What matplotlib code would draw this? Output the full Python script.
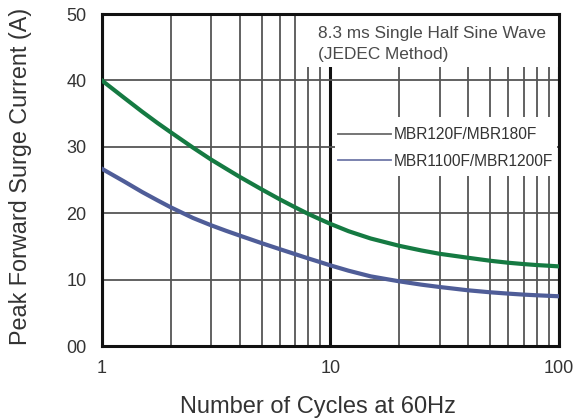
import matplotlib
matplotlib.use("Agg")
import matplotlib.pyplot as plt
from matplotlib.lines import Line2D
from matplotlib.patches import Rectangle
from matplotlib.ticker import FixedLocator, NullFormatter

plt.rcParams['font.family'] = ['Liberation Sans', 'DejaVu Sans']

cycles = [1, 1.25, 1.5, 1.75, 2, 2.5, 3, 3.5, 4, 5, 6, 7, 8, 9, 10,
          12, 15, 20, 25, 30, 40, 50, 60, 70, 80, 90, 100]
mbr120_180 = [40.0, 37.4, 35.3, 33.6, 32.2, 29.9, 28.1, 26.7, 25.5, 23.6, 22.1, 20.9, 19.9, 19.1, 18.4,
              17.3, 16.2, 15.1, 14.4, 13.9, 13.3, 12.85, 12.55, 12.35, 12.2, 12.1, 12.0]
mbr1100_1200 = [26.7, 24.8, 23.2, 21.95, 20.9, 19.3, 18.2, 17.35, 16.65, 15.5, 14.6, 13.85, 13.2, 12.65, 12.15,
                11.35, 10.5, 9.75, 9.25, 8.9, 8.4, 8.1, 7.9, 7.75, 7.65, 7.57, 7.5]
series_labels = ["MBR120F/MBR180F", "MBR1100F/MBR1200F"]
y_ticks = [0, 10, 20, 30, 40, 50]
y_ticklabels = ["00", "10", "20", "30", "40", "50"]
x_ticks = [1, 10, 100]
x_ticklabels = ["1", "10", "100"]
x_minor = [2, 3, 4, 5, 6, 7, 8, 9, 20, 30, 40, 50, 60, 70, 80, 90]

green = '#157a42'
blue = '#4f5d98'
txt = '#333333'

fig = plt.figure(figsize=(5.79, 4.20), dpi=100)
ax = fig.add_axes([0.176, 0.176, 0.7895, 0.7905])
ax.set_xscale('log')
ax.set_xlim(1, 100)
ax.set_ylim(0, 50)
ax.set_axisbelow(True)

ax.set_xticks(x_ticks)
ax.set_xticklabels(x_ticklabels)
ax.xaxis.set_minor_locator(FixedLocator(x_minor))
ax.xaxis.set_minor_formatter(NullFormatter())
ax.set_yticks(y_ticks)
ax.set_yticklabels(y_ticklabels)
ax.tick_params(which='both', length=0)
ax.tick_params(axis='x', pad=10, labelsize=13, labelcolor=txt)
ax.tick_params(axis='y', pad=11, labelsize=13, labelcolor=txt)

ax.grid(True, axis='x', which='major', color='#111111', lw=2.2)
ax.grid(True, axis='x', which='minor', color='#555555', lw=1.3)
ax.grid(True, axis='y', which='major', color='#555555', lw=1.3)

for s in ax.spines.values():
    s.set_linewidth(2.2)
    s.set_color('#111111')

# white areas behind annotation and legend
ax.add_patch(Rectangle((0.433, 0.84), 0.567, 0.16, transform=ax.transAxes,
                       facecolor='white', edgecolor='none', zorder=1))
ax.add_patch(Rectangle((0.51, 0.512), 0.4856, 0.178, transform=ax.transAxes,
                       facecolor='white', edgecolor='none', zorder=1))

ax.plot(cycles, mbr120_180, color=green, lw=3.0, zorder=3)
ax.plot(cycles, mbr1100_1200, color=blue, lw=3.0, zorder=3)

ax.text(0.472, 0.91, "8.3 ms Single Half Sine Wave\n(JEDEC Method)",
        transform=ax.transAxes, ha='left', va='center', fontsize=12.4,
        color='#4a4a4a', linespacing=1.45, zorder=4)

handles = [Line2D([], [], color='#6a6a6a', lw=1.3),
           Line2D([], [], color='#7078a8', lw=1.3)]
leg = ax.legend(handles, series_labels, loc='upper left',
                bbox_to_anchor=(338 / 579, 1 - 127 / 420),
                bbox_transform=fig.transFigure, frameon=False,
                fontsize=11.2, handlelength=3.4, handletextpad=0.2,
                labelspacing=0.75, borderpad=0, borderaxespad=0)
for t in leg.get_texts():
    t.set_color(txt)
leg.set_zorder(4)

ax.set_xlabel("Number of Cycles at 60Hz", fontsize=17, color=txt)
ax.xaxis.set_label_coords(0.473, -0.184)
ax.xaxis.label.set_va('center')
ax.set_ylabel("Peak Forward Surge Current (A)", fontsize=16.8, color=txt)
ax.yaxis.set_label_coords(-0.179, 0.512)
ax.yaxis.label.set_va('center')

fig.savefig("out.png", dpi=100)
